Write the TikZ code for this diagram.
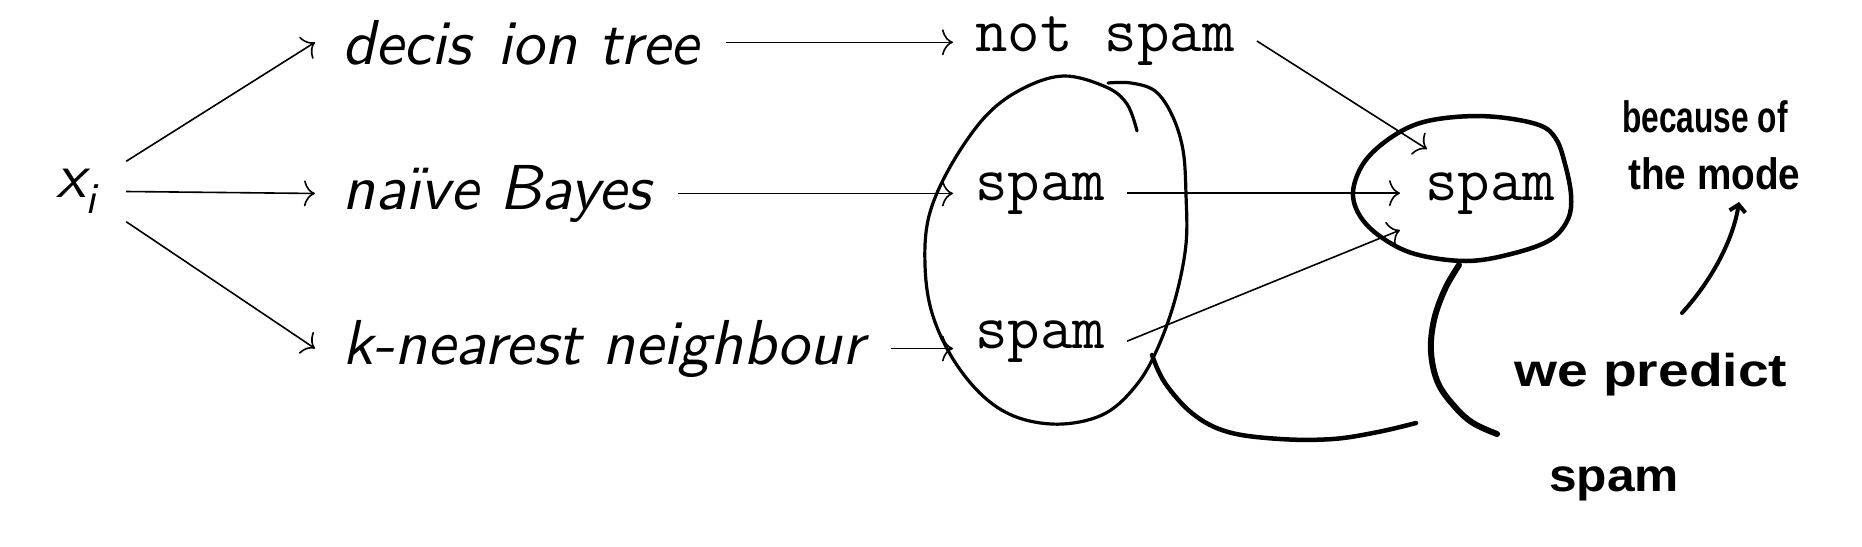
\documentclass[tikz,border=0pt]{standalone}
\usepackage{fontspec}
\usepackage{graphicx}
\usetikzlibrary{arrows.meta,calc}
\newfontfamily\handfont{Liberation Sans}
\newfontfamily\modelfont{lmsans10-oblique}[Extension=.otf]
\begin{document}
\begin{tikzpicture}[x=1pt,y=-1pt,
  conn/.style={line width=1.6pt,-{To[length=11pt,width=26pt]}},
  hand/.style={line width=3.2pt,line cap=round,line join=round},
  handthick/.style={line width=5pt,line cap=round,line join=round},
  model/.style={anchor=base west,inner xsep=27pt,inner ysep=0pt,font=\modelfont\fontsize{63.5}{70}\selectfont},
  outp/.style={anchor=base west,inner xsep=22pt,inner ysep=0pt,font=\fontsize{63}{70}\selectfont\ttfamily},
  note/.style={anchor=base west,inner sep=0pt,font=\handfont\bfseries\fontsize{44}{50}\selectfont}]
\useasboundingbox (0,0) rectangle (1862,546);

% input
\node[minimum width=99pt,minimum height=60pt,inner sep=0pt,
      font=\modelfont\fontsize{64}{70}\selectfont] (xi) at (76.5,191.5)
      {x\raisebox{-0.25em}{\fontsize{44}{50}\selectfont i}};

% models
\node[model] (dt)  at (315,64)  {decis\hspace{0.08em} ion tree};
\node[model] (nb)  at (315,209) {naïve Bayes};
\node[model] (knn) at (315,364) {k-nearest neighbour};

% outputs
\node[outp] (ns)  at (953,51.5) {not spam};
\node[outp] (sp1) at (953,200)  {spam};
\node[outp] (sp2) at (953,348)  {spam};
\node[outp,inner xsep=25pt] (rs) at (1400,200) {spam};

% arrows
\draw[conn] (xi.north east) -- (dt.west);
\draw[conn] (xi.east) -- (nb.west);
\draw[conn] (xi.south east) -- (knn.west);
\draw[conn] (dt.east) -- (dt.east -| ns.west);
\draw[conn] (nb.east) -- (nb.east -| sp1.west);
\draw[conn] (knn.east) -- (knn.east -| sp2.west);
\draw[conn] (ns.east) -- ($(rs.west)+(27,-44)$);
\draw[conn] (sp1.east) -- (sp1.east -| rs.west);
\draw[conn] (sp2.east) -- ($(rs.west)+(0,37)$);

% handwritten strokes
\draw[hand] plot[smooth,tension=0.6] coordinates {
 (1137,131) (1127,104) (1106,87) (1063,76) (1020,90) (984,118) (950,167)
 (929,216) (925,265) (932,313) (953,359) (984,397) (1019,418) (1063,424)
 (1106,413) (1138,383) (1159,345) (1176,296) (1186,244) (1186,195)
 (1183,150) (1172,115) (1155,91) (1131,83) (1108,83)};
\draw[handthick,line width=4.5pt] plot[smooth,tension=0.6] coordinates {
 (1152,355) (1165,383) (1193,414) (1228,432) (1280,439) (1333,439) (1378,432) (1416,423)};
\draw[handthick,line width=4.5pt] plot[smooth cycle,tension=0.6] coordinates {
 (1539,125) (1497,117) (1455,117) (1417,124) (1386,141) (1363,164) (1353,192)
 (1360,216) (1381,237) (1415,254) (1466,261) (1511,254) (1550,240) (1568,219)
 (1571,195) (1565,164) (1556,139)};
\draw[handthick,line width=6pt] plot[smooth,tension=0.6] coordinates {
 (1459,265) (1445,289) (1434,320) (1431,352) (1438,383) (1455,407) (1473,423) (1497,434)};

% handwritten notes
\node[note] (bec)  at (1622,132) {\scalebox{0.72}[1]{because of}};
\node[note] (mode) at (1628,189) {\scalebox{0.88}[1]{the mode}};
\node[note,font=\handfont\bfseries\fontsize{46}{52}\selectfont] (wp) at (1514,386) {\scalebox{1.2}[1]{we predict}};
\node[note,font=\handfont\bfseries\fontsize{46}{52}\selectfont] (hs) at (1549,491) {\scalebox{1.08}[1]{spam}};

\coordinate (m1) at (1682,313);
\coordinate (m2) at (1739,202);
\draw[handthick,line width=4pt,-{Straight Barb[length=7pt,width=16pt]}]
  (m1) .. controls (1712,280) and (1733,240) .. (m2);
\end{tikzpicture}
\end{document}
